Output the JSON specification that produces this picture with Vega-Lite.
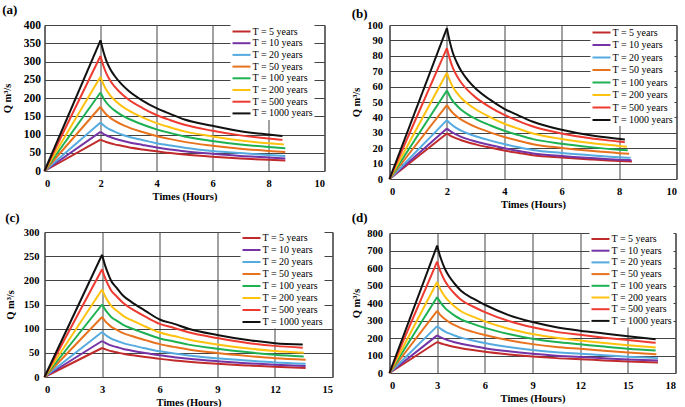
{
"$schema": "https://vega.github.io/schema/vega-lite/v6.json",
"background": "white",
"padding": {"left": 1.5, "top": 3, "right": 0, "bottom": 0},
"datasets": {
"a": [
{"T":"T = 5 years","t":0,"q":0},{"T":"T = 5 years","t":2,"q":86},{"T":"T = 5 years","t":2.1,"q":82.6},{"T":"T = 5 years","t":2.2,"q":79.6},{"T":"T = 5 years","t":2.35,"q":76},{"T":"T = 5 years","t":2.5,"q":73},{"T":"T = 5 years","t":2.75,"q":69},{"T":"T = 5 years","t":3,"q":65},{"T":"T = 5 years","t":3.5,"q":59},{"T":"T = 5 years","t":4,"q":54},{"T":"T = 5 years","t":4.5,"q":49},{"T":"T = 5 years","t":5,"q":45},{"T":"T = 5 years","t":6,"q":39},{"T":"T = 5 years","t":7,"q":34.4},{"T":"T = 5 years","t":8,"q":30.5},{"T":"T = 5 years","t":8.6,"q":28.4},
{"T":"T = 10 years","t":0,"q":0},{"T":"T = 10 years","t":2,"q":107},{"T":"T = 10 years","t":2.1,"q":102},{"T":"T = 10 years","t":2.2,"q":98},{"T":"T = 10 years","t":2.35,"q":93},{"T":"T = 10 years","t":2.5,"q":89},{"T":"T = 10 years","t":2.75,"q":83.5},{"T":"T = 10 years","t":3,"q":79},{"T":"T = 10 years","t":3.5,"q":71.5},{"T":"T = 10 years","t":4,"q":64.5},{"T":"T = 10 years","t":4.5,"q":59},{"T":"T = 10 years","t":5,"q":54},{"T":"T = 10 years","t":6,"q":47},{"T":"T = 10 years","t":7,"q":41},{"T":"T = 10 years","t":8,"q":37},{"T":"T = 10 years","t":8.6,"q":34},
{"T":"T = 20 years","t":0,"q":0},{"T":"T = 20 years","t":2,"q":133},{"T":"T = 20 years","t":2.1,"q":126},{"T":"T = 20 years","t":2.2,"q":120},{"T":"T = 20 years","t":2.35,"q":113},{"T":"T = 20 years","t":2.5,"q":108},{"T":"T = 20 years","t":2.75,"q":100},{"T":"T = 20 years","t":3,"q":94},{"T":"T = 20 years","t":3.5,"q":85},{"T":"T = 20 years","t":4,"q":76},{"T":"T = 20 years","t":4.5,"q":70},{"T":"T = 20 years","t":5,"q":64},{"T":"T = 20 years","t":6,"q":55},{"T":"T = 20 years","t":7,"q":49},{"T":"T = 20 years","t":8,"q":44},{"T":"T = 20 years","t":8.6,"q":41},
{"T":"T = 50 years","t":0,"q":0},{"T":"T = 50 years","t":2,"q":176},{"T":"T = 50 years","t":2.1,"q":164.6},{"T":"T = 50 years","t":2.2,"q":155.5},{"T":"T = 50 years","t":2.35,"q":145.6},{"T":"T = 50 years","t":2.5,"q":138},{"T":"T = 50 years","t":2.75,"q":127.7},{"T":"T = 50 years","t":3,"q":119.7},{"T":"T = 50 years","t":3.5,"q":106.9},{"T":"T = 50 years","t":4,"q":96},{"T":"T = 50 years","t":4.5,"q":87.3},{"T":"T = 50 years","t":5,"q":79.8},{"T":"T = 50 years","t":6,"q":69.4},{"T":"T = 50 years","t":7,"q":61.2},{"T":"T = 50 years","t":8,"q":55},{"T":"T = 50 years","t":8.6,"q":52.1},
{"T":"T = 100 years","t":0,"q":0},{"T":"T = 100 years","t":2,"q":215},{"T":"T = 100 years","t":2.1,"q":200.1},{"T":"T = 100 years","t":2.2,"q":188.4},{"T":"T = 100 years","t":2.35,"q":175.6},{"T":"T = 100 years","t":2.5,"q":166},{"T":"T = 100 years","t":2.75,"q":153.1},{"T":"T = 100 years","t":3,"q":143.1},{"T":"T = 100 years","t":3.5,"q":127.4},{"T":"T = 100 years","t":4,"q":114.1},{"T":"T = 100 years","t":4.5,"q":103.7},{"T":"T = 100 years","t":5,"q":94.7},{"T":"T = 100 years","t":6,"q":82.5},{"T":"T = 100 years","t":7,"q":72.7},{"T":"T = 100 years","t":8,"q":65.6},{"T":"T = 100 years","t":8.6,"q":62.3},
{"T":"T = 200 years","t":0,"q":0},{"T":"T = 200 years","t":2,"q":258},{"T":"T = 200 years","t":2.1,"q":238.4},{"T":"T = 200 years","t":2.2,"q":223.2},{"T":"T = 200 years","t":2.35,"q":206.7},{"T":"T = 200 years","t":2.5,"q":194.5},{"T":"T = 200 years","t":2.75,"q":178.5},{"T":"T = 200 years","t":3,"q":166.2},{"T":"T = 200 years","t":3.5,"q":147.1},{"T":"T = 200 years","t":4,"q":131.3},{"T":"T = 200 years","t":4.5,"q":119.2},{"T":"T = 200 years","t":5,"q":108.6},{"T":"T = 200 years","t":6,"q":94.7},{"T":"T = 200 years","t":7,"q":83.6},{"T":"T = 200 years","t":8,"q":75.7},{"T":"T = 200 years","t":8.55,"q":72.3},
{"T":"T = 500 years","t":0,"q":0},{"T":"T = 500 years","t":2,"q":315},{"T":"T = 500 years","t":2.1,"q":288.9},{"T":"T = 500 years","t":2.2,"q":268.9},{"T":"T = 500 years","t":2.35,"q":247.4},{"T":"T = 500 years","t":2.5,"q":231.8},{"T":"T = 500 years","t":2.75,"q":211.6},{"T":"T = 500 years","t":3,"q":196},{"T":"T = 500 years","t":3.5,"q":172.5},{"T":"T = 500 years","t":4,"q":153.5},{"T":"T = 500 years","t":4.5,"q":139.2},{"T":"T = 500 years","t":5,"q":126.5},{"T":"T = 500 years","t":6,"q":110.4},{"T":"T = 500 years","t":7,"q":97.6},{"T":"T = 500 years","t":8,"q":88.8},{"T":"T = 500 years","t":8.5,"q":85.4},
{"T":"T = 1000 years","t":0,"q":0},{"T":"T = 1000 years","t":2,"q":358},{"T":"T = 1000 years","t":2.1,"q":328},{"T":"T = 1000 years","t":2.2,"q":304},{"T":"T = 1000 years","t":2.35,"q":279},{"T":"T = 1000 years","t":2.5,"q":261},{"T":"T = 1000 years","t":2.75,"q":238},{"T":"T = 1000 years","t":3,"q":220},{"T":"T = 1000 years","t":3.5,"q":193},{"T":"T = 1000 years","t":4,"q":172},{"T":"T = 1000 years","t":4.5,"q":156},{"T":"T = 1000 years","t":5,"q":141},{"T":"T = 1000 years","t":6,"q":124},{"T":"T = 1000 years","t":7,"q":109},{"T":"T = 1000 years","t":8,"q":100},{"T":"T = 1000 years","t":8.5,"q":96}
],
"b": [
{"T":"T = 5 years","t":0,"q":0},{"T":"T = 5 years","t":2,"q":29.6},{"T":"T = 5 years","t":2.1,"q":28.4},{"T":"T = 5 years","t":2.2,"q":27.4},{"T":"T = 5 years","t":2.35,"q":26.2},{"T":"T = 5 years","t":2.5,"q":25.2},{"T":"T = 5 years","t":2.75,"q":23.7},{"T":"T = 5 years","t":3,"q":22.5},{"T":"T = 5 years","t":3.5,"q":20.4},{"T":"T = 5 years","t":4,"q":18.5},{"T":"T = 5 years","t":4.5,"q":16.9},{"T":"T = 5 years","t":5,"q":15.4},{"T":"T = 5 years","t":6,"q":13.9},{"T":"T = 5 years","t":7,"q":12.7},{"T":"T = 5 years","t":8,"q":11.7},{"T":"T = 5 years","t":8.45,"q":11.4},
{"T":"T = 10 years","t":0,"q":0},{"T":"T = 10 years","t":2,"q":32.8},{"T":"T = 10 years","t":2.1,"q":31.3},{"T":"T = 10 years","t":2.2,"q":30.1},{"T":"T = 10 years","t":2.35,"q":28.7},{"T":"T = 10 years","t":2.5,"q":27.4},{"T":"T = 10 years","t":2.75,"q":25.7},{"T":"T = 10 years","t":3,"q":24.4},{"T":"T = 10 years","t":3.5,"q":22.1},{"T":"T = 10 years","t":4,"q":20},{"T":"T = 10 years","t":4.5,"q":18.2},{"T":"T = 10 years","t":5,"q":16.6},{"T":"T = 10 years","t":6,"q":14.9},{"T":"T = 10 years","t":7,"q":13.6},{"T":"T = 10 years","t":8,"q":12.5},{"T":"T = 10 years","t":8.43,"q":12.2},
{"T":"T = 20 years","t":0,"q":0},{"T":"T = 20 years","t":2,"q":38.2},{"T":"T = 20 years","t":2.1,"q":36.3},{"T":"T = 20 years","t":2.2,"q":34.7},{"T":"T = 20 years","t":2.35,"q":32.9},{"T":"T = 20 years","t":2.5,"q":31.4},{"T":"T = 20 years","t":2.75,"q":29.4},{"T":"T = 20 years","t":3,"q":27.8},{"T":"T = 20 years","t":3.5,"q":25.1},{"T":"T = 20 years","t":4,"q":22.7},{"T":"T = 20 years","t":4.5,"q":20.6},{"T":"T = 20 years","t":5,"q":18.8},{"T":"T = 20 years","t":6,"q":16.9},{"T":"T = 20 years","t":7,"q":15.4},{"T":"T = 20 years","t":8,"q":14.1},{"T":"T = 20 years","t":8.4,"q":13.8},
{"T":"T = 50 years","t":0,"q":0},{"T":"T = 50 years","t":2,"q":48},{"T":"T = 50 years","t":2.1,"q":45.2},{"T":"T = 50 years","t":2.2,"q":43},{"T":"T = 50 years","t":2.35,"q":40.5},{"T":"T = 50 years","t":2.5,"q":38.5},{"T":"T = 50 years","t":2.75,"q":35.9},{"T":"T = 50 years","t":3,"q":33.8},{"T":"T = 50 years","t":3.5,"q":30.3},{"T":"T = 50 years","t":4,"q":27.3},{"T":"T = 50 years","t":4.5,"q":24.8},{"T":"T = 50 years","t":5,"q":22.6},{"T":"T = 50 years","t":6,"q":20.2},{"T":"T = 50 years","t":7,"q":18.3},{"T":"T = 50 years","t":8,"q":16.8},{"T":"T = 50 years","t":8.35,"q":16.4},
{"T":"T = 100 years","t":0,"q":0},{"T":"T = 100 years","t":2,"q":57.5},{"T":"T = 100 years","t":2.1,"q":53.8},{"T":"T = 100 years","t":2.2,"q":50.7},{"T":"T = 100 years","t":2.35,"q":47.6},{"T":"T = 100 years","t":2.5,"q":45},{"T":"T = 100 years","t":2.75,"q":41.7},{"T":"T = 100 years","t":3,"q":39.1},{"T":"T = 100 years","t":3.5,"q":34.9},{"T":"T = 100 years","t":4,"q":31.3},{"T":"T = 100 years","t":4.5,"q":28.5},{"T":"T = 100 years","t":5,"q":25.9},{"T":"T = 100 years","t":6,"q":22.9},{"T":"T = 100 years","t":7,"q":20.7},{"T":"T = 100 years","t":8,"q":19},{"T":"T = 100 years","t":8.3,"q":18.6},
{"T":"T = 200 years","t":0,"q":0},{"T":"T = 200 years","t":2,"q":69},{"T":"T = 200 years","t":2.1,"q":64},{"T":"T = 200 years","t":2.2,"q":60},{"T":"T = 200 years","t":2.35,"q":55.9},{"T":"T = 200 years","t":2.5,"q":52.6},{"T":"T = 200 years","t":2.75,"q":48.5},{"T":"T = 200 years","t":3,"q":45.3},{"T":"T = 200 years","t":3.5,"q":40.2},{"T":"T = 200 years","t":4,"q":35.9},{"T":"T = 200 years","t":4.5,"q":32.6},{"T":"T = 200 years","t":5,"q":29.6},{"T":"T = 200 years","t":6,"q":26},{"T":"T = 200 years","t":7,"q":23.4},{"T":"T = 200 years","t":8,"q":21.5},{"T":"T = 200 years","t":8.27,"q":21},
{"T":"T = 500 years","t":0,"q":0},{"T":"T = 500 years","t":2,"q":85},{"T":"T = 500 years","t":2.1,"q":78},{"T":"T = 500 years","t":2.2,"q":72.5},{"T":"T = 500 years","t":2.35,"q":66.9},{"T":"T = 500 years","t":2.5,"q":62.5},{"T":"T = 500 years","t":2.75,"q":57.2},{"T":"T = 500 years","t":3,"q":53},{"T":"T = 500 years","t":3.5,"q":46.7},{"T":"T = 500 years","t":4,"q":41.6},{"T":"T = 500 years","t":4.5,"q":37.6},{"T":"T = 500 years","t":5,"q":34.1},{"T":"T = 500 years","t":6,"q":29.6},{"T":"T = 500 years","t":7,"q":26.4},{"T":"T = 500 years","t":8,"q":24.3},{"T":"T = 500 years","t":8.2,"q":23.8},
{"T":"T = 1000 years","t":0,"q":0},{"T":"T = 1000 years","t":2,"q":98},{"T":"T = 1000 years","t":2.1,"q":89.2},{"T":"T = 1000 years","t":2.2,"q":82.3},{"T":"T = 1000 years","t":2.35,"q":75.5},{"T":"T = 1000 years","t":2.5,"q":70.1},{"T":"T = 1000 years","t":2.75,"q":63.7},{"T":"T = 1000 years","t":3,"q":58.8},{"T":"T = 1000 years","t":3.5,"q":51.5},{"T":"T = 1000 years","t":4,"q":45.6},{"T":"T = 1000 years","t":4.5,"q":41.2},{"T":"T = 1000 years","t":5,"q":37.2},{"T":"T = 1000 years","t":6,"q":32},{"T":"T = 1000 years","t":7,"q":28.4},{"T":"T = 1000 years","t":8,"q":26.1},{"T":"T = 1000 years","t":8.2,"q":25.7}
],
"c": [
{"T":"T = 5 years","t":0,"q":0},{"T":"T = 5 years","t":3,"q":60},{"T":"T = 5 years","t":3.15,"q":57.6},{"T":"T = 5 years","t":3.3,"q":55.5},{"T":"T = 5 years","t":3.5,"q":53.1},{"T":"T = 5 years","t":3.75,"q":51},{"T":"T = 5 years","t":4.1,"q":48},{"T":"T = 5 years","t":4.5,"q":45.6},{"T":"T = 5 years","t":5.25,"q":41.4},{"T":"T = 5 years","t":6,"q":37.5},{"T":"T = 5 years","t":6.75,"q":34.2},{"T":"T = 5 years","t":7.5,"q":31.5},{"T":"T = 5 years","t":9,"q":27.3},{"T":"T = 5 years","t":10.5,"q":24},{"T":"T = 5 years","t":12,"q":21},{"T":"T = 5 years","t":13.6,"q":18.6},
{"T":"T = 10 years","t":0,"q":0},{"T":"T = 10 years","t":3,"q":74.5},{"T":"T = 10 years","t":3.15,"q":71},{"T":"T = 10 years","t":3.3,"q":68.1},{"T":"T = 10 years","t":3.5,"q":64.8},{"T":"T = 10 years","t":3.75,"q":62},{"T":"T = 10 years","t":4.1,"q":58.1},{"T":"T = 10 years","t":4.5,"q":55},{"T":"T = 10 years","t":5.25,"q":49.7},{"T":"T = 10 years","t":6,"q":44.8},{"T":"T = 10 years","t":6.75,"q":41},{"T":"T = 10 years","t":7.5,"q":37.7},{"T":"T = 10 years","t":9,"q":32.7},{"T":"T = 10 years","t":10.5,"q":28.7},{"T":"T = 10 years","t":12,"q":25.3},{"T":"T = 10 years","t":13.6,"q":22.6},
{"T":"T = 20 years","t":0,"q":0},{"T":"T = 20 years","t":3,"q":93},{"T":"T = 20 years","t":3.15,"q":87.8},{"T":"T = 20 years","t":3.3,"q":83.6},{"T":"T = 20 years","t":3.5,"q":78.9},{"T":"T = 20 years","t":3.75,"q":75.1},{"T":"T = 20 years","t":4.1,"q":70},{"T":"T = 20 years","t":4.5,"q":66},{"T":"T = 20 years","t":5.25,"q":59.3},{"T":"T = 20 years","t":6,"q":53.1},{"T":"T = 20 years","t":6.75,"q":48.6},{"T":"T = 20 years","t":7.5,"q":44.6},{"T":"T = 20 years","t":9,"q":38.7},{"T":"T = 20 years","t":10.5,"q":34.1},{"T":"T = 20 years","t":12,"q":30.2},{"T":"T = 20 years","t":13.6,"q":27.4},
{"T":"T = 50 years","t":0,"q":0},{"T":"T = 50 years","t":3,"q":124},{"T":"T = 50 years","t":3.15,"q":116.3},{"T":"T = 50 years","t":3.3,"q":110},{"T":"T = 50 years","t":3.5,"q":103.2},{"T":"T = 50 years","t":3.75,"q":98},{"T":"T = 50 years","t":4.1,"q":90.8},{"T":"T = 50 years","t":4.5,"q":85.3},{"T":"T = 50 years","t":5.25,"q":76.3},{"T":"T = 50 years","t":6,"q":68},{"T":"T = 50 years","t":6.75,"q":62.3},{"T":"T = 50 years","t":7.5,"q":57},{"T":"T = 50 years","t":9,"q":49.6},{"T":"T = 50 years","t":10.5,"q":43.7},{"T":"T = 50 years","t":12,"q":38.9},{"T":"T = 50 years","t":13.6,"q":35.7},
{"T":"T = 100 years","t":0,"q":0},{"T":"T = 100 years","t":3,"q":150},{"T":"T = 100 years","t":3.15,"q":140},{"T":"T = 100 years","t":3.3,"q":132},{"T":"T = 100 years","t":3.5,"q":123},{"T":"T = 100 years","t":3.75,"q":116.7},{"T":"T = 100 years","t":4.1,"q":108},{"T":"T = 100 years","t":4.5,"q":101},{"T":"T = 100 years","t":5.25,"q":90},{"T":"T = 100 years","t":6,"q":79.8},{"T":"T = 100 years","t":6.75,"q":73.4},{"T":"T = 100 years","t":7.5,"q":67},{"T":"T = 100 years","t":9,"q":58.4},{"T":"T = 100 years","t":10.5,"q":51.5},{"T":"T = 100 years","t":12,"q":46},{"T":"T = 100 years","t":13.5,"q":42.5},
{"T":"T = 200 years","t":0,"q":0},{"T":"T = 200 years","t":3,"q":181},{"T":"T = 200 years","t":3.15,"q":167.7},{"T":"T = 200 years","t":3.3,"q":157},{"T":"T = 200 years","t":3.5,"q":146},{"T":"T = 200 years","t":3.75,"q":137.6},{"T":"T = 200 years","t":4.1,"q":126.5},{"T":"T = 200 years","t":4.5,"q":118},{"T":"T = 200 years","t":5.25,"q":104.5},{"T":"T = 200 years","t":6,"q":92},{"T":"T = 200 years","t":6.75,"q":84.8},{"T":"T = 200 years","t":7.5,"q":77.4},{"T":"T = 200 years","t":9,"q":67.4},{"T":"T = 200 years","t":10.5,"q":59.5},{"T":"T = 200 years","t":12,"q":53.6},{"T":"T = 200 years","t":13.5,"q":50},
{"T":"T = 500 years","t":0,"q":0},{"T":"T = 500 years","t":3,"q":223},{"T":"T = 500 years","t":3.15,"q":205.6},{"T":"T = 500 years","t":3.3,"q":192},{"T":"T = 500 years","t":3.5,"q":177.5},{"T":"T = 500 years","t":3.75,"q":167},{"T":"T = 500 years","t":4.1,"q":153},{"T":"T = 500 years","t":4.5,"q":142},{"T":"T = 500 years","t":5.25,"q":125},{"T":"T = 500 years","t":6,"q":110},{"T":"T = 500 years","t":6.75,"q":101.5},{"T":"T = 500 years","t":7.5,"q":92.4},{"T":"T = 500 years","t":9,"q":80.6},{"T":"T = 500 years","t":10.5,"q":71},{"T":"T = 500 years","t":12,"q":64.4},{"T":"T = 500 years","t":13.45,"q":60.6},
{"T":"T = 1000 years","t":0,"q":0},{"T":"T = 1000 years","t":3,"q":253},{"T":"T = 1000 years","t":3.15,"q":231.5},{"T":"T = 1000 years","t":3.3,"q":215},{"T":"T = 1000 years","t":3.5,"q":197},{"T":"T = 1000 years","t":3.75,"q":185},{"T":"T = 1000 years","t":4.1,"q":168},{"T":"T = 1000 years","t":4.5,"q":156},{"T":"T = 1000 years","t":5.25,"q":137},{"T":"T = 1000 years","t":6,"q":119},{"T":"T = 1000 years","t":6.75,"q":110},{"T":"T = 1000 years","t":7.5,"q":100},{"T":"T = 1000 years","t":9,"q":87},{"T":"T = 1000 years","t":10.5,"q":77},{"T":"T = 1000 years","t":12,"q":70},{"T":"T = 1000 years","t":13.45,"q":67}
],
"d": [
{"T":"T = 5 years","t":0,"q":0},{"T":"T = 5 years","t":3,"q":177},{"T":"T = 5 years","t":3.15,"q":172},{"T":"T = 5 years","t":3.3,"q":167},{"T":"T = 5 years","t":3.5,"q":162},{"T":"T = 5 years","t":3.75,"q":156},{"T":"T = 5 years","t":4.1,"q":149},{"T":"T = 5 years","t":4.5,"q":142},{"T":"T = 5 years","t":5.25,"q":131},{"T":"T = 5 years","t":6,"q":121},{"T":"T = 5 years","t":7.5,"q":106},{"T":"T = 5 years","t":9,"q":94},{"T":"T = 5 years","t":10.5,"q":85},{"T":"T = 5 years","t":12,"q":79},{"T":"T = 5 years","t":13.5,"q":72},{"T":"T = 5 years","t":15,"q":65.5},{"T":"T = 5 years","t":16.9,"q":60},
{"T":"T = 10 years","t":0,"q":0},{"T":"T = 10 years","t":3,"q":215},{"T":"T = 10 years","t":3.15,"q":207},{"T":"T = 10 years","t":3.3,"q":201},{"T":"T = 10 years","t":3.5,"q":193.5},{"T":"T = 10 years","t":3.75,"q":185},{"T":"T = 10 years","t":4.1,"q":176},{"T":"T = 10 years","t":4.5,"q":167},{"T":"T = 10 years","t":5.25,"q":154},{"T":"T = 10 years","t":6,"q":142},{"T":"T = 10 years","t":7.5,"q":124},{"T":"T = 10 years","t":9,"q":110},{"T":"T = 10 years","t":10.5,"q":99},{"T":"T = 10 years","t":12,"q":92},{"T":"T = 10 years","t":13.5,"q":84},{"T":"T = 10 years","t":15,"q":77},{"T":"T = 10 years","t":16.9,"q":71},
{"T":"T = 20 years","t":0,"q":0},{"T":"T = 20 years","t":3,"q":268},{"T":"T = 20 years","t":3.15,"q":257},{"T":"T = 20 years","t":3.3,"q":248},{"T":"T = 20 years","t":3.5,"q":237},{"T":"T = 20 years","t":3.75,"q":226},{"T":"T = 20 years","t":4.1,"q":214},{"T":"T = 20 years","t":4.5,"q":202},{"T":"T = 20 years","t":5.25,"q":186},{"T":"T = 20 years","t":6,"q":171.5},{"T":"T = 20 years","t":7.5,"q":149},{"T":"T = 20 years","t":9,"q":132},{"T":"T = 20 years","t":10.5,"q":119},{"T":"T = 20 years","t":12,"q":110},{"T":"T = 20 years","t":13.5,"q":101},{"T":"T = 20 years","t":15,"q":93},{"T":"T = 20 years","t":16.9,"q":85},
{"T":"T = 50 years","t":0,"q":0},{"T":"T = 50 years","t":3,"q":355},{"T":"T = 50 years","t":3.15,"q":337},{"T":"T = 50 years","t":3.3,"q":323},{"T":"T = 50 years","t":3.5,"q":307},{"T":"T = 50 years","t":3.75,"q":291},{"T":"T = 50 years","t":4.1,"q":273},{"T":"T = 50 years","t":4.5,"q":256},{"T":"T = 50 years","t":5.25,"q":235},{"T":"T = 50 years","t":6,"q":217},{"T":"T = 50 years","t":7.5,"q":187},{"T":"T = 50 years","t":9,"q":165},{"T":"T = 50 years","t":10.5,"q":149},{"T":"T = 50 years","t":12,"q":138},{"T":"T = 50 years","t":13.5,"q":127},{"T":"T = 50 years","t":15,"q":117},{"T":"T = 50 years","t":16.8,"q":107},
{"T":"T = 100 years","t":0,"q":0},{"T":"T = 100 years","t":3,"q":434},{"T":"T = 100 years","t":3.15,"q":411},{"T":"T = 100 years","t":3.3,"q":392},{"T":"T = 100 years","t":3.5,"q":371},{"T":"T = 100 years","t":3.75,"q":351},{"T":"T = 100 years","t":4.1,"q":328},{"T":"T = 100 years","t":4.5,"q":307},{"T":"T = 100 years","t":5.25,"q":281},{"T":"T = 100 years","t":6,"q":258},{"T":"T = 100 years","t":7.5,"q":223},{"T":"T = 100 years","t":9,"q":196},{"T":"T = 100 years","t":10.5,"q":177},{"T":"T = 100 years","t":12,"q":164},{"T":"T = 100 years","t":13.5,"q":151},{"T":"T = 100 years","t":15,"q":139},{"T":"T = 100 years","t":16.75,"q":128},
{"T":"T = 200 years","t":0,"q":0},{"T":"T = 200 years","t":3,"q":520},{"T":"T = 200 years","t":3.15,"q":488},{"T":"T = 200 years","t":3.3,"q":463},{"T":"T = 200 years","t":3.5,"q":435},{"T":"T = 200 years","t":3.75,"q":409},{"T":"T = 200 years","t":4.1,"q":380},{"T":"T = 200 years","t":4.5,"q":353},{"T":"T = 200 years","t":5.25,"q":322},{"T":"T = 200 years","t":6,"q":295},{"T":"T = 200 years","t":7.5,"q":253},{"T":"T = 200 years","t":9,"q":223},{"T":"T = 200 years","t":10.5,"q":201},{"T":"T = 200 years","t":12,"q":186},{"T":"T = 200 years","t":13.5,"q":172},{"T":"T = 200 years","t":15,"q":159},{"T":"T = 200 years","t":16.75,"q":146},
{"T":"T = 500 years","t":0,"q":0},{"T":"T = 500 years","t":3,"q":637},{"T":"T = 500 years","t":3.15,"q":594},{"T":"T = 500 years","t":3.3,"q":561},{"T":"T = 500 years","t":3.5,"q":524},{"T":"T = 500 years","t":3.75,"q":490},{"T":"T = 500 years","t":4.1,"q":453},{"T":"T = 500 years","t":4.5,"q":419},{"T":"T = 500 years","t":5.25,"q":380},{"T":"T = 500 years","t":6,"q":348},{"T":"T = 500 years","t":7.5,"q":297},{"T":"T = 500 years","t":9,"q":261},{"T":"T = 500 years","t":10.5,"q":235},{"T":"T = 500 years","t":12,"q":218},{"T":"T = 500 years","t":13.5,"q":202},{"T":"T = 500 years","t":15,"q":188},{"T":"T = 500 years","t":16.75,"q":173},
{"T":"T = 1000 years","t":0,"q":0},{"T":"T = 1000 years","t":3,"q":728},{"T":"T = 1000 years","t":3.15,"q":677},{"T":"T = 1000 years","t":3.3,"q":637},{"T":"T = 1000 years","t":3.5,"q":593},{"T":"T = 1000 years","t":3.75,"q":553},{"T":"T = 1000 years","t":4.1,"q":510},{"T":"T = 1000 years","t":4.5,"q":470},{"T":"T = 1000 years","t":5.25,"q":426},{"T":"T = 1000 years","t":6,"q":390},{"T":"T = 1000 years","t":7.5,"q":331},{"T":"T = 1000 years","t":9,"q":291},{"T":"T = 1000 years","t":10.5,"q":262},{"T":"T = 1000 years","t":12,"q":242},{"T":"T = 1000 years","t":13.5,"q":226},{"T":"T = 1000 years","t":15,"q":210},{"T":"T = 1000 years","t":16.75,"q":193}
]
},
"concat": [
{"width": 280, "height": 146,
 "title": {"text": "(a)", "offset": 2},
 "data": {"name": "a"},
 "encoding": {
  "x": {"field": "t", "type": "quantitative", "scale": {"domain": [0, 10], "nice": false}, "axis": {"values": [0, 2, 4, 6, 8, 10], "title": "Times (Hours)"}},
  "y": {"field": "q", "type": "quantitative", "scale": {"domain": [0, 400], "nice": false}, "axis": {"values": [0, 50, 100, 150, 200, 250, 300, 350, 400], "title": "Q m³/s", "labelFontSize": 11.5, "labelPadding": 4, "titlePadding": 11}},
  "color": {"field": "T", "type": "nominal", "scale": {"domain": ["T = 5 years", "T = 10 years", "T = 20 years", "T = 50 years", "T = 100 years", "T = 200 years", "T = 500 years", "T = 1000 years"], "range": ["#C22B2B", "#7434A6", "#55AAE0", "#E8731E", "#1DB152", "#FFC20E", "#EE3A30", "#111111"]}, "legend": {"title": null, "orient": "none", "legendX": 186, "legendY": 0, "rowPadding": 0.7}}
 },
 "layer": [
  {"transform": [{"filter": "datum.t <= 2"}], "mark": {"type": "line", "strokeWidth": 2}},
  {"transform": [{"filter": "datum.t >= 2"}], "mark": {"type": "line", "strokeWidth": 2, "interpolate": "monotone"}}
 ]},
{"width": 287, "height": 154,
 "title": {"text": "(b)", "offset": -1},
 "data": {"name": "b"},
 "encoding": {
  "x": {"field": "t", "type": "quantitative", "scale": {"domain": [0, 10], "nice": false}, "axis": {"values": [0, 2, 4, 6, 8, 10], "title": "Times (Hours)"}},
  "y": {"field": "q", "type": "quantitative", "scale": {"domain": [0, 100], "nice": false}, "axis": {"values": [0, 10, 20, 30, 40, 50, 60, 70, 80, 90, 100], "title": "Q m³/s", "labelPadding": 7, "titlePadding": 5}},
  "color": {"field": "T", "type": "nominal", "scale": {"domain": ["T = 5 years", "T = 10 years", "T = 20 years", "T = 50 years", "T = 100 years", "T = 200 years", "T = 500 years", "T = 1000 years"], "range": ["#C22B2B", "#7434A6", "#55AAE0", "#E8731E", "#1DB152", "#FFC20E", "#EE3A30", "#111111"]}, "legend": {"title": null, "orient": "none", "legendX": 201, "legendY": 1, "rowPadding": 1.5}}
 },
 "layer": [
  {"transform": [{"filter": "datum.t <= 2"}], "mark": {"type": "line", "strokeWidth": 2}},
  {"transform": [{"filter": "datum.t >= 2"}], "mark": {"type": "line", "strokeWidth": 2, "interpolate": "monotone"}}
 ]},
{"width": 288, "height": 145,
 "title": {"text": "(c)", "offset": 2},
 "data": {"name": "c"},
 "encoding": {
  "x": {"field": "t", "type": "quantitative", "scale": {"domain": [0, 15], "nice": false}, "axis": {"values": [0, 3, 6, 9, 12, 15], "title": "Times (Hours)"}},
  "y": {"field": "q", "type": "quantitative", "scale": {"domain": [0, 300], "nice": false}, "axis": {"values": [0, 50, 100, 150, 200, 250, 300], "title": "Q m³/s", "labelPadding": 5.5, "titlePadding": 8}},
  "color": {"field": "T", "type": "nominal", "scale": {"domain": ["T = 5 years", "T = 10 years", "T = 20 years", "T = 50 years", "T = 100 years", "T = 200 years", "T = 500 years", "T = 1000 years"], "range": ["#C22B2B", "#7434A6", "#55AAE0", "#E8731E", "#1DB152", "#FFC20E", "#EE3A30", "#111111"]}, "legend": {"title": null, "orient": "none", "legendX": 196, "legendY": -0.5, "rowPadding": 1}}
 },
 "layer": [
  {"transform": [{"filter": "datum.t <= 3"}], "mark": {"type": "line", "strokeWidth": 2}},
  {"transform": [{"filter": "datum.t >= 3"}], "mark": {"type": "line", "strokeWidth": 2, "interpolate": "monotone"}}
 ]},
{"width": 286, "height": 140,
 "title": {"text": "(d)", "offset": 3},
 "data": {"name": "d"},
 "encoding": {
  "x": {"field": "t", "type": "quantitative", "scale": {"domain": [0, 18], "nice": false}, "axis": {"values": [0, 3, 6, 9, 12, 15, 18], "title": "Times (Hours)"}},
  "y": {"field": "q", "type": "quantitative", "scale": {"domain": [0, 800], "nice": false}, "axis": {"values": [0, 100, 200, 300, 400, 500, 600, 700, 800], "title": "Q m³/s", "labelPadding": 7, "titlePadding": 5}},
  "color": {"field": "T", "type": "nominal", "scale": {"domain": ["T = 5 years", "T = 10 years", "T = 20 years", "T = 50 years", "T = 100 years", "T = 200 years", "T = 500 years", "T = 1000 years"], "range": ["#C22B2B", "#7434A6", "#55AAE0", "#E8731E", "#1DB152", "#FFC20E", "#EE3A30", "#111111"]}, "legend": {"title": null, "orient": "none", "legendX": 200, "legendY": -0.5, "rowPadding": 0.7}}
 },
 "layer": [
  {"transform": [{"filter": "datum.t <= 3"}], "mark": {"type": "line", "strokeWidth": 2}},
  {"transform": [{"filter": "datum.t >= 3"}], "mark": {"type": "line", "strokeWidth": 2, "interpolate": "monotone"}}
 ]}
],
"columns": 2,
"align": "none",
"bounds": "full",
"spacing": {"row": 0, "column": 17},
"resolve": {"scale": {"color": "independent"}, "legend": {"color": "independent"}},
"config": {
 "view": {"stroke": "#222222", "strokeWidth": 1},
 "title": {"font": "Liberation Serif", "fontSize": 13, "fontWeight": "bold", "color": "#000000", "anchor": "start", "frame": "bounds"},
 "axis": {"labelFont": "Liberation Serif", "labelFontWeight": "bold", "labelFontSize": 10.5, "labelColor": "#000000", "titleFont": "Liberation Serif", "titleFontWeight": "bold", "titleFontSize": 10.5, "titleColor": "#000000", "ticks": false, "domain": false, "grid": true, "gridColor": "#444444", "gridOpacity": 1, "gridWidth": 1},
 "axisX": {"labelPadding": 7, "titlePadding": 3},
 "legend": {"labelFont": "Liberation Serif", "labelFontSize": 10, "labelColor": "#000000", "symbolType": "M-1,0H3", "symbolSize": 81, "symbolStrokeWidth": 2, "labelOffset": 10, "fillColor": "white", "padding": 1}
}
}
